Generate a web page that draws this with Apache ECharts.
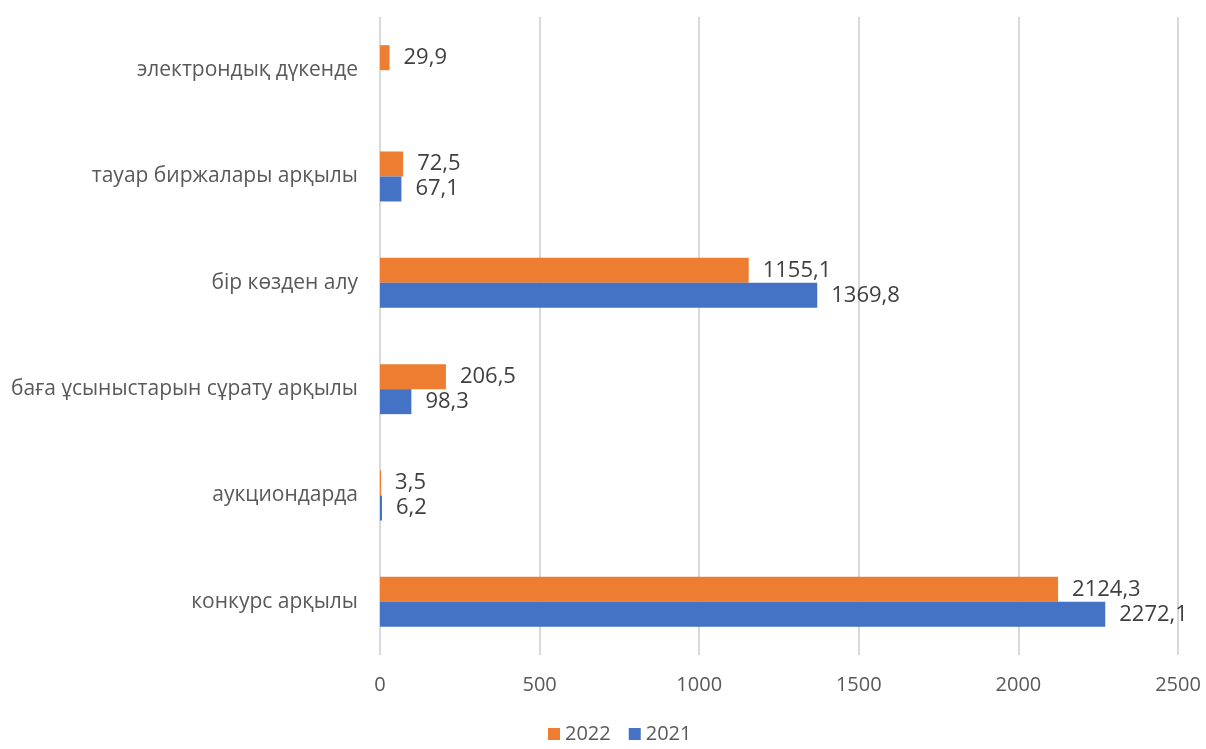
<!DOCTYPE html>
<html><head><meta charset="utf-8">
<script src="https://cdn.jsdelivr.net/npm/echarts@6/dist/echarts.min.js"></script>
<style>html,body{margin:0;padding:0;background:#fff}#c{width:1206px;height:749px}</style>
</head><body><div id="c"></div>
<script>
const categories = ['конкурс арқылы','аукциондарда','баға ұсыныстарын сұрату арқылы','бір көзден алу','тауар биржалары арқылы','электрондық дүкенде'];
const values2022 = [2124.3, 3.5, 206.5, 1155.1, 72.5, 29.9];
const values2021 = [2272.1, 6.2, 98.3, 1369.8, 67.1, null];
const xTicks = [0, 500, 1000, 1500, 2000, 2500];

const fontFam = '"Open Sans", "Noto Sans", sans-serif';
const fmt = p => String(p.value).replace('.', ',');
const chart = echarts.init(document.getElementById('c'));
chart.setOption({
  animation: false,
  textStyle: {fontFamily: fontFam},
  grid: {left: 380, right: 28, top: 17, bottom: 94, containLabel: false},
  legend: {
    data: ['2022', '2021'], bottom: 0, left: 543, itemWidth: 12, itemHeight: 12, itemGap: 18,
    icon: 'rect', textStyle: {fontSize: 20, color: '#595959', fontFamily: fontFam}
  },
  xAxis: {
    type: 'value', min: xTicks[0], max: xTicks[xTicks.length - 1], interval: 500,
    axisLine: {show: false}, axisTick: {show: false},
    axisLabel: {fontSize: 20, color: '#595959', margin: 20, fontFamily: fontFam, formatter: v => String(v)},
    splitLine: {lineStyle: {color: '#D9D9D9', width: 2}}
  },
  yAxis: {
    type: 'category', data: categories,
    axisLine: {show: false}, axisTick: {show: false},
    axisLabel: {fontSize: 21, color: '#595959', margin: 22, fontFamily: fontFam}
  },
  series: [
    {name: '2022', type: 'bar', data: values2022, barWidth: 25, barGap: '0%',
     itemStyle: {color: '#ED7D31'},
     label: {show: true, position: 'right', distance: 14, fontSize: 22, color: '#404040', formatter: fmt, fontFamily: fontFam}},
    {name: '2021', type: 'bar', data: values2021, barWidth: 25, barGap: '0%',
     itemStyle: {color: '#4472C4'},
     label: {show: true, position: 'right', distance: 14, fontSize: 22, color: '#404040', formatter: fmt, fontFamily: fontFam}}
  ]
});
</script></body></html>
